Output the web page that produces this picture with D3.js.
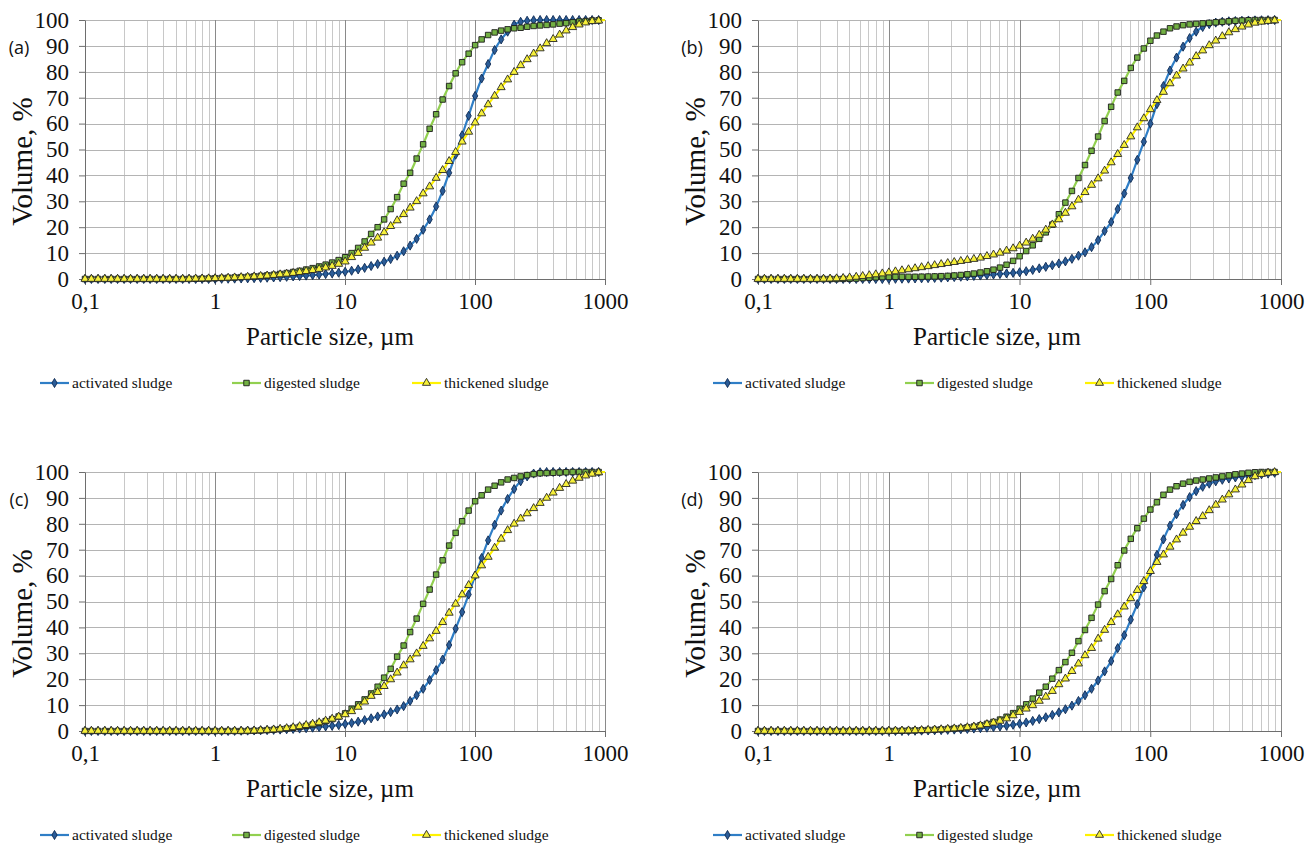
<!DOCTYPE html>
<html><head><meta charset="utf-8">
<script src="https://cdn.jsdelivr.net/npm/d3@7"></script>
<style>body{margin:0;background:#fff;} svg{display:block;}</style>
</head><body><svg id="chart" width="1314" height="846"></svg>
<script>
// ---------- data ----------
const sizes = [0.1,0.112,0.126,0.142,0.159,0.178,0.2,0.224,0.252,0.283,
0.317,0.356,0.399,0.448,0.502,0.564,0.632,0.71,0.796,0.893,
1.002,1.125,1.262,1.416,1.589,1.783,2,2.244,2.518,2.825,
3.17,3.557,3.991,4.477,5.024,5.637,6.325,7.096,7.962,8.934,
10.024,11.247,12.619,14.159,15.887,17.825,20,22.44,25.179,28.251,
31.698,35.566,39.905,44.774,50.238,56.368,63.246,70.963,79.621,89.337,
100.237,112.468,126.191,141.589,158.866,178.25,200,224.404,251.785,282.508,
316.979,355.656,399.052,447.744,502.377,563.677,632.456,709.627,796.214,893.367,
1000];

const xTickValues = [0.1, 1, 10, 100, 1000];
const xTickLabels = ["0,1", "1", "10", "100", "1000"];
const yTickValues = [0, 10, 20, 30, 40, 50, 60, 70, 80, 90, 100];
const seriesNames = ["activated sludge", "digested sludge", "thickened sludge"];
const panelLabels = ["(a)", "(b)", "(c)", "(d)"];
const xTitle = "Particle size, µm";
const yTitle = "Volume, %";

const aActivated = [0,0,0,0,0,0,0,0,0,0, 0,0,0,0,0,0,0,0,0,0,
0.05,0.08,0.11,0.15,0.2,0.26,0.33,0.41,0.5,0.6,
0.72,0.85,1.0,1.15,1.32,1.5,1.7,1.92,2.17,2.45,
2.8,3.2,3.7,4.3,5.0,5.8,6.7,7.7,9.0,10.7,
12.9,15.5,19,23,28,34,41,48,55.5,63,
70.7,77.4,83,88.4,92.5,95.5,98.2,99.3,99.7,99.9,
100,100,100,100,100,100,100,100,100,100, 100];
const aDigested = [0,0,0,0,0,0,0,0,0,0, 0,0,0,0,0,0,0.05,0.1,0.15,0.2,
0.3,0.4,0.5,0.6,0.72,0.85,1.0,1.2,1.4,1.65,
1.95,2.3,2.7,3.15,3.65,4.2,4.85,5.55,6.35,7.3,
8.4,10,12,14.5,17.4,20,23,27,31.6,36.8,
41,46.5,52,58,63.6,69.3,74.5,79.4,83.7,87,
90.3,92.5,94.2,95.2,95.9,96.4,96.8,97,97.4,97.7,
97.9,98.1,98.3,98.6,98.8,99.1,99.4,99.6,99.8,99.9, 100];
const aThickened = [0,0,0,0,0,0,0,0,0,0, 0,0,0,0,0,0,0.05,0.1,0.15,0.2,
0.28,0.37,0.46,0.56,0.68,0.8,0.95,1.12,1.3,1.5,
1.75,2.0,2.3,2.65,3.0,3.4,3.85,4.4,5.0,5.8,
6.7,8.4,10,12,14,15.9,18,20.4,22.6,25,
27.5,30,33,35.7,39,42,45.5,49,53,56.8,
60.4,63.9,67.4,70.7,74,77,79.9,82.5,84.8,87,
89,91,92.6,94.3,95.9,97.2,98.2,99,99.5,99.7, 100];

const bActivated = [0,0,0,0,0,0,0,0,0,0, 0,0,0,0,0,0,0,0,0,0,
0.05,0.08,0.12,0.16,0.21,0.27,0.34,0.42,0.52,0.63,
0.75,0.88,1.02,1.18,1.35,1.53,1.73,1.94,2.15,2.37,
2.6,3.0,3.5,4.1,4.7,5.3,6.0,6.8,7.8,9.0,
10.3,12.3,15,18.5,22,27,33,39,46,53,
60,67.5,74.5,80.5,85.5,89.7,93,95.5,97.3,98.4,
99,99.3,99.5,99.6,99.7,99.8,99.85,99.9,99.95,100, 100];
const bDigested = [0,0,0,0,0,0,0,0,0,0, 0,0,0,0.05,0.1,0.2,0.35,0.5,0.65,0.75,
0.8,0.85,0.85,0.85,0.85,0.9,0.95,1.0,1.1,1.2,
1.35,1.55,1.8,2.1,2.5,3.0,3.6,4.4,5.5,7.0,
8.8,10.8,13,15.5,18,21,25,29.5,34,39,
44,49.5,55,61,66.5,72,76.5,81.5,85.5,89,
92,94,95.5,96.8,97.5,98,98.3,98.5,98.7,98.9,
99.1,99.3,99.5,99.7,99.8,99.9,100,100,100,100, 100];
const bThickened = [0,0,0,0,0,0,0,0,0,0, 0.05,0.1,0.2,0.35,0.55,0.8,1.1,1.4,1.75,2.1,
2.5,2.9,3.3,3.7,4.1,4.5,4.9,5.3,5.7,6.1,
6.5,6.9,7.3,7.7,8.2,8.8,9.4,10.1,10.9,11.8,
12.8,14,15.5,17,19,21,23,25.5,28,30.6,
33.5,36.3,38.8,41.8,45,48.2,51.7,55,58.5,62,
65.5,69,72.2,75.5,78.5,81.2,83.5,86,88.2,90.2,
92,93.7,95.2,96.4,97.4,98.2,98.9,99.3,99.6,99.8, 100];

const cActivated = [0,0,0,0,0,0,0,0,0,0, 0,0,0,0,0,0,0,0,0,0,
0,0,0,0.05,0.1,0.15,0.2,0.27,0.35,0.45,
0.55,0.67,0.8,0.95,1.1,1.3,1.5,1.75,2.0,2.3,
2.7,3.1,3.6,4.2,4.9,5.6,6.4,7.3,8.3,9.6,
11.6,13.8,16.3,19.7,23.5,27.6,33.2,39.5,45.9,52.7,
60,66.8,73.6,79.6,85.1,89.6,93.4,96.4,98.3,99.4,
99.9,100,100,100,100,100,100,100,100,100, 100];
const cDigested = [0,0,0,0,0,0,0,0,0,0, 0,0,0,0,0,0,0,0,0,0,
0,0,0,0,0,0.05,0.12,0.22,0.35,0.5,
0.7,0.95,1.25,1.6,2.0,2.5,3.1,3.8,4.6,5.6,
6.8,8.6,10.3,12.2,14.5,17.1,20.6,24,28.7,33,
38.2,43.4,49.1,54.6,60.4,65.9,71.6,76.5,81,85.1,
88.7,91,93.2,94.7,96,97.1,97.7,98.3,98.8,99.2,
99.5,99.6,99.7,99.8,99.9,100,100,100,100,100, 100];
const cThickened = [0,0,0,0,0,0,0,0,0,0, 0,0,0,0,0,0,0,0,0,0,
0,0,0,0,0,0.05,0.12,0.22,0.38,0.55,
0.8,1.05,1.4,1.8,2.25,2.75,3.3,3.95,4.7,5.5,
6.4,7.6,9.3,11.3,13.5,15,17.3,19.9,22.5,25.3,
27.6,29.9,32.8,35.7,38.6,42,45.6,49.1,52.7,56.3,
60,63.9,67.2,70.7,74.2,77.5,80,82,84,86,
88,90,92,93.8,95.3,96.6,97.7,98.6,99.3,99.8, 100];

const dActivated = [0,0,0,0,0,0,0,0,0,0, 0,0,0,0,0,0,0,0,0,0,
0,0,0,0.05,0.1,0.15,0.2,0.27,0.35,0.45,
0.55,0.67,0.8,0.95,1.1,1.3,1.5,1.75,2.0,2.4,
2.8,3.3,3.9,4.6,5.3,6.2,7.2,8.4,9.8,11.6,
13.8,16.3,19.5,23,27,32,37,43,49,55.5,
61.5,68,74,79.3,83.7,87.3,90.3,92.6,94.3,95.5,
96.4,97,97.5,97.9,98.2,98.5,98.8,99.1,99.4,99.7, 100];
const dDigested = [0,0,0,0,0,0,0,0,0,0, 0,0,0,0,0,0,0,0,0,0,
0.05,0.08,0.12,0.17,0.23,0.3,0.4,0.5,0.63,0.78,
0.95,1.15,1.4,1.7,2.2,2.8,3.5,4.4,5.5,6.9,
8.6,10.3,12.5,14.8,17.1,20.2,23.5,26.6,30.2,34.7,
39,43.7,48.8,54,58.7,64,69.7,74.2,78.3,82,
85.5,88.3,91.2,93.2,94.5,95.5,96.2,96.7,97.1,97.5,
97.9,98.3,98.7,99.1,99.4,99.7,99.9,100,100,100, 100];
const dThickened = [0,0,0,0,0,0,0,0,0,0, 0,0,0,0,0,0,0,0,0,0,
0.05,0.08,0.12,0.17,0.23,0.3,0.4,0.5,0.63,0.78,
0.95,1.15,1.4,1.7,2.1,2.6,3.2,3.9,4.8,6.0,
7.3,8.6,9.9,11.6,13.2,15.4,18,20.2,23.1,26,
29.2,32,35.6,39,42,45,48,51.2,54.4,57.8,
61.7,65.2,68.1,71.1,73.9,76.5,78.8,81,82.9,85.2,
87.3,89.3,91.3,93.2,95.1,96.8,98.3,99.2,99.7,99.9, 100];

// ---------- styles ----------
const seriesStyle = [
  {line:"#2f7ec6", symbol:d3.symbolDiamond, size:24, fill:"#2b5c97", stroke:"#0f2a52"},
  {line:"#92d050", symbol:d3.symbolSquare, size:30, fill:"#72b043", stroke:"#1b1b1b"},
  {line:"#fff200", symbol:d3.symbolTriangle, size:28, fill:"#f6f03a", stroke:"#262626"}
];

const panels = [
  {label:panelLabels[0], data:[aActivated,aDigested,aThickened], left:85,  right:605,  top:20,  bottom:279, titleX:330},
  {label:panelLabels[1], data:[bActivated,bDigested,bThickened], left:758, right:1281, top:20,  bottom:279, titleX:997},
  {label:panelLabels[2], data:[cActivated,cDigested,cThickened], left:85,  right:605,  top:472, bottom:731, titleX:330},
  {label:panelLabels[3], data:[dActivated,dDigested,dThickened], left:758, right:1281, top:472, bottom:731, titleX:997}
];

const svg = d3.select("#chart");
const serif = "'Liberation Serif','Times New Roman',serif";

panels.forEach(p => {
  const g = svg.append("g");
  const x = d3.scaleLog().domain([0.1, 1000]).range([p.left, p.right]);
  const y = d3.scaleLinear().domain([0, 100]).range([p.bottom, p.top]);

  // minor vertical grid
  const minor = [];
  [0.1, 1, 10, 100].forEach(d => { for (let k = 2; k <= 9; k++) minor.push(d * k); });
  g.selectAll(".vminor").data(minor).join("line")
    .attr("x1", d => Math.round(x(d)) + 0.5).attr("x2", d => Math.round(x(d)) + 0.5)
    .attr("y1", p.top).attr("y2", p.bottom)
    .attr("stroke", "#c8c8c8").attr("stroke-width", 1);
  // horizontal grid
  g.selectAll(".hgrid").data(yTickValues.filter(v => v > 0)).join("line")
    .attr("x1", p.left).attr("x2", p.right)
    .attr("y1", d => Math.round(y(d)) + 0.5).attr("y2", d => Math.round(y(d)) + 0.5)
    .attr("stroke", "#b4b4b4").attr("stroke-width", 1);
  // major vertical grid
  g.selectAll(".vmajor").data(xTickValues.slice(1)).join("line")
    .attr("x1", d => Math.round(x(d)) + 0.5).attr("x2", d => Math.round(x(d)) + 0.5)
    .attr("y1", p.top).attr("y2", p.bottom)
    .attr("stroke", "#8a8a8a").attr("stroke-width", 1);

  // axes
  const xAxis = d3.axisBottom(x).tickValues(xTickValues)
    .tickFormat((d, i) => xTickLabels[i]).tickSizeInner(6).tickSizeOuter(0).tickPadding(8);
  const gx = g.append("g").attr("transform", `translate(0,${p.bottom})`).call(xAxis);
  gx.select(".domain").attr("stroke", "#6e6e6e");
  gx.selectAll(".tick line").attr("stroke", "#6e6e6e");
  gx.selectAll("text").attr("font-family", serif).attr("font-size", 23).attr("fill", "#111");

  const yAxis = d3.axisLeft(y).tickValues(yTickValues)
    .tickSizeInner(6).tickSizeOuter(0).tickPadding(10);
  const gy = g.append("g").attr("transform", `translate(${p.left},0)`).call(yAxis);
  gy.select(".domain").attr("stroke", "#6e6e6e");
  gy.selectAll(".tick line").attr("stroke", "#6e6e6e");
  gy.selectAll("text").attr("font-family", serif).attr("font-size", 23).attr("fill", "#111");

  // titles
  g.append("text").attr("x", p.titleX).attr("y", p.bottom + 66)
    .attr("text-anchor", "middle").attr("font-family", serif).attr("font-size", 25)
    .attr("fill", "#111").text(xTitle);
  g.append("text").attr("transform", `translate(${p.left - 53},${(p.top + p.bottom) / 2 + 12}) rotate(-90)`)
    .attr("text-anchor", "middle").attr("font-family", serif).attr("font-size", 29)
    .attr("fill", "#111").text(yTitle);
  g.append("text").attr("x", p.left - 66).attr("y", p.top + 34)
    .attr("text-anchor", "middle").attr("font-family", "'Open Sans',sans-serif").attr("font-size", 18)
    .attr("fill", "#111").text(p.label);

  // series
  p.data.forEach((vals, si) => {
    const st = seriesStyle[si];
    const pts = sizes.map((s, i) => [s, vals[i]]);
    const line = d3.line().x(d => x(d[0])).y(d => y(d[1])).curve(d3.curveMonotoneX);
    g.append("path").datum(pts).attr("d", line)
      .attr("fill", "none").attr("stroke", st.line).attr("stroke-width", 2.2);
    const sym = d3.symbol().type(st.symbol).size(st.size);
    g.selectAll(null).data(pts.filter(d => d[0] < 950)).join("path")
      .attr("transform", d => `translate(${x(d[0])},${y(d[1])})`)
      .attr("d", sym).attr("fill", st.fill).attr("stroke", st.stroke).attr("stroke-width", 0.9);
  });

  // legend
  const ly = p.bottom + 104;
  const offsets = [-45, 147, 327];
  seriesNames.forEach((name, si) => {
    const st = seriesStyle[si];
    const lx = p.left + offsets[si];
    g.append("line").attr("x1", lx).attr("x2", lx + 29).attr("y1", ly).attr("y2", ly)
      .attr("stroke", st.line).attr("stroke-width", 2.2);
    g.append("path").attr("transform", `translate(${lx + 14.5},${ly})`)
      .attr("d", d3.symbol().type(st.symbol).size(st.size)())
      .attr("fill", st.fill).attr("stroke", st.stroke).attr("stroke-width", 0.9);
    g.append("text").attr("x", lx + 32).attr("y", ly + 5)
      .attr("font-family", serif).attr("font-size", 15.5).attr("fill", "#111").text(name);
  });
});
</script>
</body></html>
